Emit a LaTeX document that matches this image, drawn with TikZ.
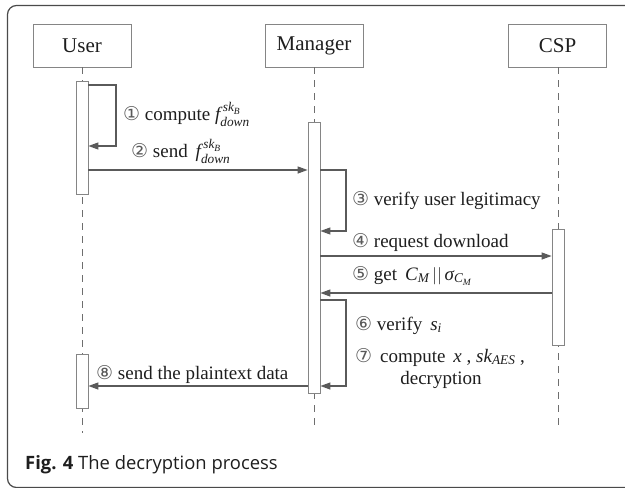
\documentclass[tikz,border=0pt]{standalone}
\usepackage{amsmath}
\usepackage{fontspec}
\setmainfont{Liberation Serif}
\newfontfamily\capfont{Open Sans}
\newfontfamily\numfont{DejaVu Sans}
\usetikzlibrary{arrows.meta}

\definecolor{framegray}{HTML}{4A4A4A}
\definecolor{boxgray}{HTML}{858585}
\definecolor{linegray}{HTML}{5A5A5A}
\definecolor{lifegray}{HTML}{6E6E6E}
\definecolor{textgray}{HTML}{1E1E1E}
\definecolor{numgray}{HTML}{5A5A5A}

% circled step number
\newcommand\cnum[1]{{\numfont\color{numgray}#1}}
% italic math letters in the text face
\newcommand\ivar[1]{\textit{#1}}

\begin{document}
\begin{tikzpicture}[x=1pt,y=-1pt,
  actor/.style={draw=boxgray, line width=0.8pt, minimum width=98pt,
    minimum height=43pt, inner sep=0pt, text=textgray,
    font=\fontsize{21}{24}\selectfont},
  life/.style={draw=lifegray, line width=0.9pt, dash pattern=on 7pt off 6pt},
  act/.style={draw=boxgray, fill=white, line width=0.8pt, inner sep=0pt,
    minimum width=12pt, anchor=north},
  msg/.style={draw=linegray, line width=1.2pt,
    -{Triangle[length=10pt,width=7pt]}},
  lbl/.style={font=\fontsize{19}{22}\selectfont, inner sep=0pt,
    text=textgray, anchor=base west},
]
\useasboundingbox (0,0) rectangle (625,488);
\begin{scope}
\clip (0,0) rectangle (625,488);
\draw[framegray, line width=1.2pt, rounded corners=9pt] (7.5,5.5) rectangle (660,487.5);
\end{scope}

% participants
\node[actor] (user) at (82,45.5) {User};
\node[actor] (mgr)  at (314,45.5) {Manager};
\node[actor] (csp)  at (557.5,45.5) {CSP};

% lifeline ends
\coordinate (userend) at (82,433);
\coordinate (mgrend)  at (314,430);
\coordinate (cspend)  at (558,430);

\draw[life] (user.south) -- (userend);
\draw[life] (mgr.south) -- (mgrend);
\draw[life] (csp.south -| cspend) -- (cspend);

% activation bars
\node[act, minimum height=113pt] (ua1) at (82,81) {};
\node[act, minimum height=271pt] (ma)  at (314,122) {};
\node[act, minimum height=116pt] (ca)  at (558,229) {};
\node[act, minimum height=54pt]  (ua2) at (82,354) {};

% step 1: self call of the user
\draw[msg] (ua1.east |- 0,85) -- (116,85) -- (116,146) -- (ua1.east |- 0,146);
\node[lbl] (l1) at (123,120) {\cnum{①} compute $\ivar{f}^{\,\ivar{sk}_{\ivar{B}}}_{\ivar{down}}$};

% step 2
\draw[msg] (ua1.east |- 0,170) -- (ma.west |- 0,170);
\node[lbl] (l2) at (131,157) {\cnum{②} send \,$\ivar{f}^{\,\ivar{sk}_{\ivar{B}}}_{\ivar{down}}$};

% step 3: self call of the manager
\draw[msg] (ma.east |- 0,170) -- (346,170) -- (346,231) -- (ma.east |- 0,231);
\node[lbl] (l3) at (352,205) {\cnum{③} verify user legitimacy};

% step 4
\draw[msg] (ma.east |- 0,256) -- (ca.west |- 0,256);
\node[lbl] (l4) at (352,247) {\cnum{④} request download};

% step 5
\draw[msg] (ca.west |- 0,293) -- (ma.east |- 0,293);
\node[lbl] (l5) at (352,280) {\cnum{⑤} get \,$\ivar{C}_{\ivar{M}}\,||\,\ivar{σ}_{\ivar{C}_{\ivar{M}}}$};

% steps 6 and 7: self call of the manager
\draw[msg] (ma.east |- 0,300) -- (346,300) -- (346,386) -- (ma.east |- 0,386);
\node[lbl] (l6) at (355,330) {\cnum{⑥} verify \,$\ivar{s}_{\ivar{i}}$};
\node[lbl] (l7) at (355,362) {\cnum{⑦} \,compute \,$\ivar{x}$ , $\ivar{sk}_{\ivar{AES}}$ ,};
\node[lbl, anchor=base] (l7b) at (441,384) {decryption};

% step 8
\draw[msg] (ma.west |- 0,386) -- (ua2.east |- 0,386);
\node[lbl] (l8) at (96,379) {\cnum{⑧} send the plaintext data};

% caption
\node[anchor=base west, inner sep=0pt, text=textgray,
  font=\capfont\fontsize{18.4}{21}\selectfont] (cap) at (25,469)
  {\textbf{Fig. 4} The decryption process};
\end{tikzpicture}
\end{document}
